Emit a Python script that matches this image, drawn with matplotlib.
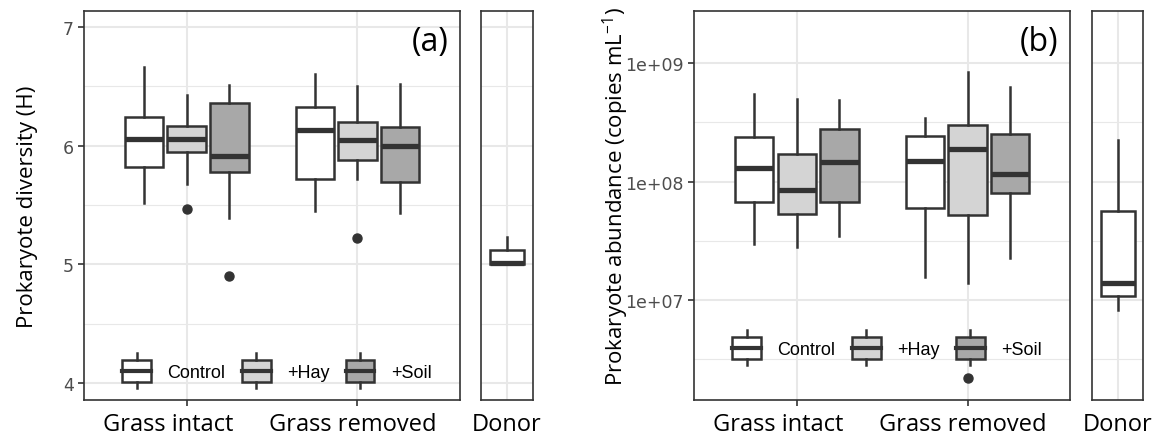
import matplotlib.pyplot as plt
import numpy as np
from matplotlib.legend_handler import HandlerBase
from matplotlib.patches import Rectangle, Patch
from matplotlib.lines import Line2D

plt.rcParams["mathtext.fontset"] = "custom"
plt.rcParams["mathtext.rm"] = "Open Sans"
plt.rcParams["mathtext.it"] = "Open Sans:italic"
plt.rcParams["mathtext.bf"] = "Open Sans:bold"

# groups and treatments
sites = ["Grass intact", "Grass removed"]
treatments = ["Control", "+Hay", "+Soil"]
fills = ["#ffffff", "#d4d4d4", "#a8a8a8"]

# diversity (H): whislo, q1, median, q3, whishi per site x treatment
div_whislo = [[5.52, 5.68, 5.39], [5.45, 5.72, 5.43]]
div_q1 = [[5.82, 5.95, 5.78], [5.72, 5.88, 5.69]]
div_med = [[6.06, 6.06, 5.91], [6.13, 6.05, 6.00]]
div_q3 = [[6.24, 6.17, 6.36], [6.33, 6.20, 6.16]]
div_whishi = [[6.66, 6.43, 6.51], [6.60, 6.50, 6.52]]
div_fliers = [[[], [5.47], [4.90]], [[], [5.22], []]]
donor_div = dict(whislo=5.0, q1=5.0, med=5.01, q3=5.12, whishi=5.23)

# abundance (copies per mL)
abu_whislo = [[3.0e7, 2.8e7, 3.45e7], [1.55e7, 1.4e7, 2.28e7]]
abu_q1 = [[6.7e7, 5.35e7, 6.7e7], [6.0e7, 5.2e7, 7.95e7]]
abu_med = [[1.3e8, 8.55e7, 1.46e8], [1.49e8, 1.89e8, 1.16e8]]
abu_q3 = [[2.4e8, 1.7e8, 2.77e8], [2.43e8, 2.99e8, 2.51e8]]
abu_whishi = [[5.55e8, 4.97e8, 4.9e8], [3.48e8, 8.45e8, 6.3e8]]
abu_fliers = [[[], [], []], [[], [2.2e6], []]]
donor_abu = dict(whislo=8.2e6, q1=1.08e7, med=1.38e7, q3=5.65e7, whishi=2.25e8)

# horizontal nudge (points) of the site names under the ticks
site_shift = [-13.5, -3.5]

dark = "#333333"
grid_col = "#e8e8e8"


class BoxKey(HandlerBase):
    def create_artists(self, legend, orig_handle, xdescent, ydescent,
                       width, height, fontsize, trans):
        x0, y0 = -xdescent, -ydescent
        xc = x0 + width / 2
        stub = height * 0.3
        box = Rectangle((x0, y0), width, height,
                        facecolor=orig_handle.get_facecolor(),
                        edgecolor=dark, linewidth=1.8, transform=trans)
        med = Line2D([x0, x0 + width], [y0 + height / 2] * 2, color=dark,
                     linewidth=3.0, transform=trans)
        top = Line2D([xc, xc], [y0 + height, y0 + height + stub], color=dark,
                     linewidth=1.8, transform=trans)
        bot = Line2D([xc, xc], [y0 - stub, y0], color=dark,
                     linewidth=1.8, transform=trans)
        return [box, med, top, bot]


def style_axes(ax):
    ax.set_axisbelow(True)
    ax.grid(True, which="major", color=grid_col, linewidth=1.5)
    ax.grid(True, which="minor", axis="y", color=grid_col, linewidth=0.8)
    for s in ax.spines.values():
        s.set_color(dark)
        s.set_linewidth(1.2)
    ax.tick_params(axis="y", which="major", length=4, width=1.2, color=dark,
                   labelcolor="#4d4d4d", labelsize=12.5)
    ax.tick_params(axis="y", which="minor", length=0)
    ax.tick_params(axis="x", length=4, width=1.2, color=dark, pad=6,
                   labelcolor="black", labelsize=17)
    for lab in ax.get_xticklabels():
        lab.set_fontfamily("Open Sans")


def draw_boxes(ax, stats, positions, widths, colors):
    out = ax.bxp(stats, positions=positions, widths=widths, patch_artist=True,
                 showcaps=False, manage_ticks=False,
                 boxprops=dict(edgecolor=dark, linewidth=1.8),
                 whiskerprops=dict(color=dark, linewidth=1.8),
                 medianprops=dict(color=dark, linewidth=3.8,
                                  solid_capstyle="butt"),
                 flierprops=dict(marker="o", markerfacecolor=dark,
                                 markeredgecolor=dark, markersize=6.5))
    for patch, c in zip(out["boxes"], colors):
        patch.set_facecolor(c)


def panel(ax, axd, wlo, q1, med, q3, whi, fl, donor, ylabel, lab_xy, tag,
          leg_y, ylim, log=False):
    stats, pos, cols = [], [], []
    for i in range(len(sites)):
        for j in range(len(treatments)):
            stats.append(dict(whislo=wlo[i][j], q1=q1[i][j], med=med[i][j],
                              q3=q3[i][j], whishi=whi[i][j], fliers=fl[i][j]))
            pos.append(i + 1 + (j - 1) * 0.25)
            cols.append(fills[j])
    if log:
        ax.set_yscale("log")
        axd.set_yscale("log")
    draw_boxes(ax, stats, pos, 0.225, cols)
    ax.set_xlim(0.4, 2.6)
    ax.set_xticks([1, 2])
    ax.set_xticklabels([])
    for i, name in enumerate(sites):
        ax.annotate(name, xy=(i + 1, 0), xycoords=("data", "axes fraction"),
                    xytext=(site_shift[i], -9), textcoords="offset points",
                    ha="center", va="top", fontsize=17, family="Open Sans")
    ax.set_ylim(*ylim)
    ax.set_ylabel(ylabel, fontsize=16, family="Open Sans")
    ax.yaxis.set_label_coords(*lab_xy, transform=fig.transFigure)
    ax.text(0.97, 0.965, tag, transform=ax.transAxes, ha="right", va="top",
            fontsize=23, family="Open Sans")

    draw_boxes(axd, [dict(donor, fliers=[])], [1], 0.8, ["#ffffff"])
    axd.set_xlim(0.4, 1.6)
    axd.set_xticks([1])
    axd.set_xticklabels(["Donor"])
    axd.set_ylim(*ylim)

    for a in (ax, axd):
        style_axes(a)
    axd.tick_params(axis="y", which="both", length=0, labelleft=False)
    axd.tick_params(axis="x", length=0, pad=9)

    handles = [Patch(facecolor=c) for c in fills]
    ax.legend(handles, treatments, handler_map={Patch: BoxKey()},
              loc="center", bbox_to_anchor=(0.513, leg_y), ncol=3,
              frameon=False, handlelength=1.6, handleheight=1.5,
              handletextpad=0.9, columnspacing=0.9,
              prop=dict(family="Liberation Sans", size=13))


fig = plt.figure(figsize=(11.57, 4.39), dpi=100)
bottom, height = 0.0866, 0.8861
ax_a = fig.add_axes([0.0726, bottom, 0.3250, height])
ax_ad = fig.add_axes([0.4157, bottom, 0.0450, height])
ax_b = fig.add_axes([0.6001, bottom, 0.3247, height])
ax_bd = fig.add_axes([0.9438, bottom, 0.0445, height])

panel(ax_a, ax_ad, div_whislo, div_q1, div_med, div_q3, div_whishi,
      div_fliers, donor_div, "Prokaryote diversity (H)", (0.0325, 0.530),
      "(a)", 0.075, (3.857, 7.135))
ax_a.set_yticks([4, 5, 6, 7])
ax_a.set_yticks([4.5, 5.5, 6.5], minor=True)
ax_ad.set_yticks([4, 5, 6, 7])
ax_ad.set_yticks([4.5, 5.5, 6.5], minor=True)

panel(ax_b, ax_bd, abu_whislo, abu_q1, abu_med, abu_q3, abu_whishi,
      abu_fliers, donor_abu, "Prokaryote abundance (copies mL$^{-1}$)",
      (0.5455, 0.552), "(b)", 0.134, (10 ** 6.155, 10 ** 9.442), log=True)
major = [1e7, 1e8, 1e9]
minor = [10 ** 6.5, 10 ** 7.5, 10 ** 8.5]
for a in (ax_b, ax_bd):
    a.set_yticks(major)
    a.set_yticks(minor, minor=True)
    a.set_yticklabels([], minor=True)
ax_b.set_yticklabels(["1e+07", "1e+08", "1e+09"])
ax_bd.tick_params(axis="y", which="both", length=0, labelleft=False)

fig.savefig("out.png", dpi=100)
